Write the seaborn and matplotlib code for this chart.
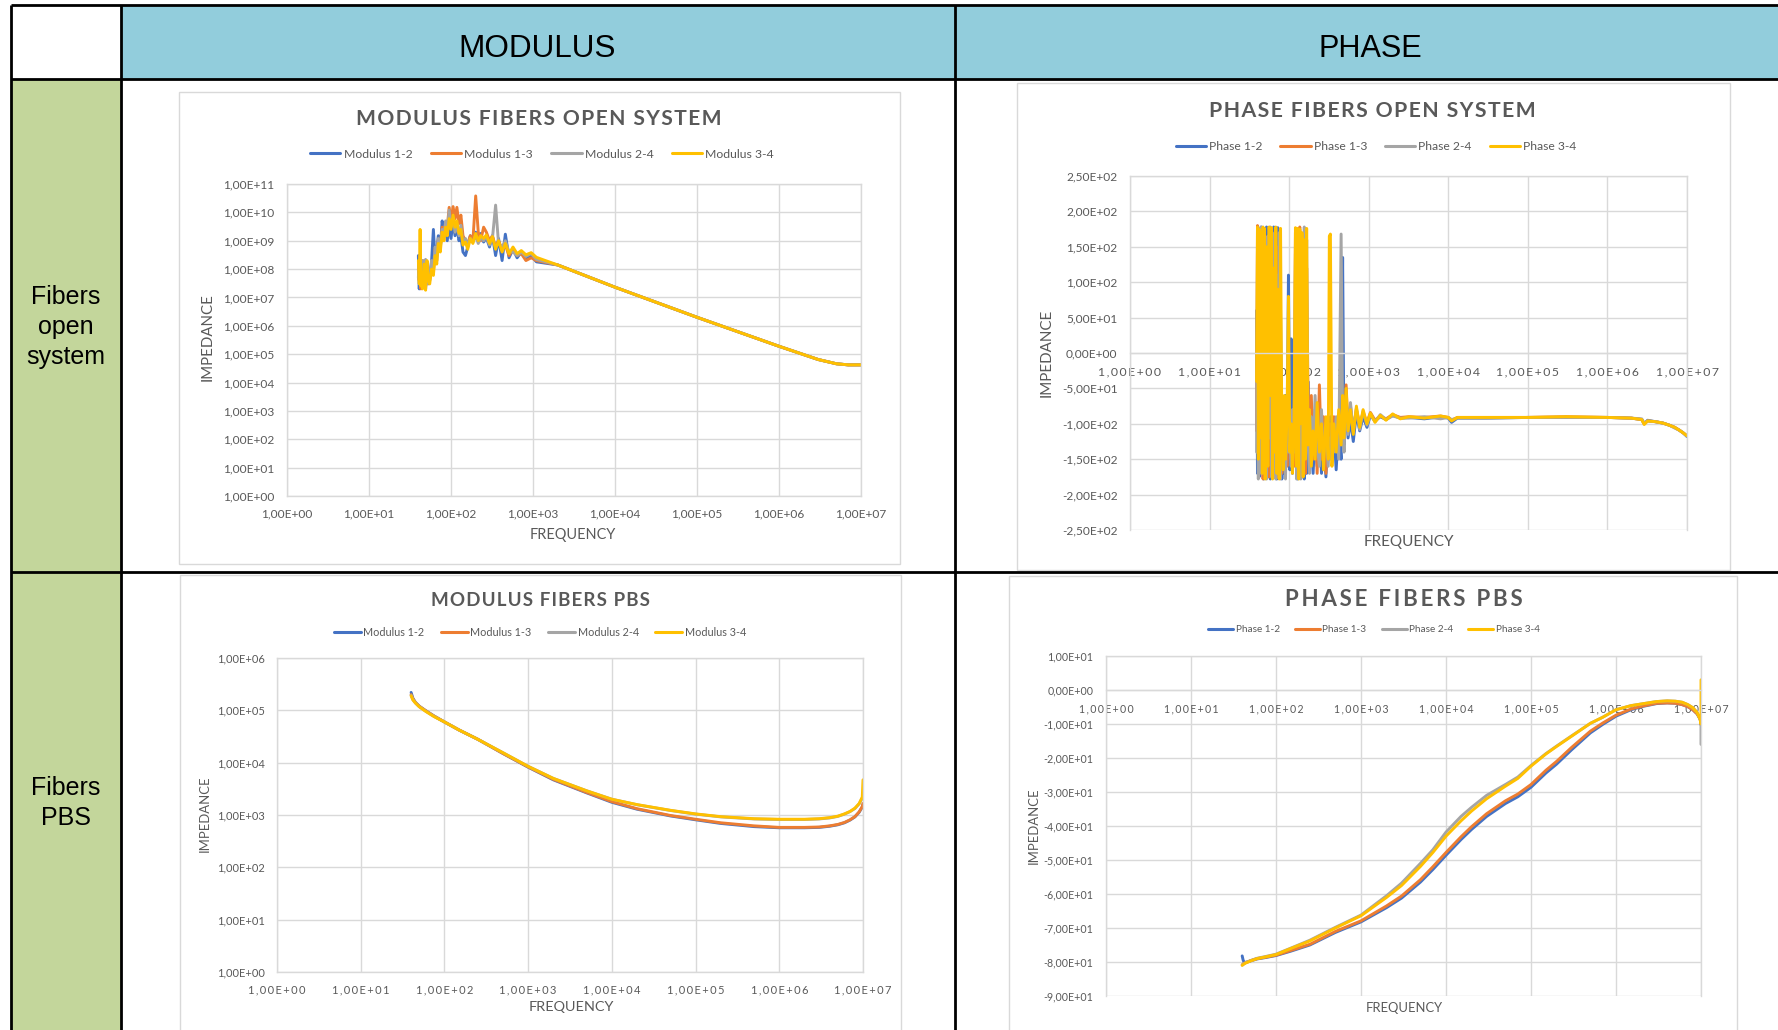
import matplotlib
matplotlib.use("Agg")
import matplotlib.pyplot as plt
from matplotlib.patches import Rectangle
from matplotlib.lines import Line2D
from matplotlib.ticker import FuncFormatter, FixedLocator, NullLocator
import pandas as pd
import seaborn as sns

# ------------------------------------------------------------------ data
series_colors = {"1-2": "#4472C4", "1-3": "#ED7D31", "2-4": "#A5A5A5", "3-4": "#FFC000"}
series_keys = ["1-2", "1-3", "2-4", "3-4"]

freq_ticks = [1e0, 1e1, 1e2, 1e3, 1e4, 1e5, 1e6, 1e7]

# Modulus, fibers open system
mod_open_freq_low = [40, 41, 42, 43, 44, 45, 47, 49, 51, 53, 55, 58, 61, 64, 67, 70, 74, 78, 82, 86,
                     90, 95, 100, 106, 112, 118, 125, 132, 140, 150, 160, 172, 185, 200, 215, 230,
                     250, 270, 295, 320, 350, 380, 420, 460, 510, 570, 640, 720, 820, 950, 1100]
mod_open_freq_high = [2000, 10000, 100000, 1000000, 3000000, 5000000, 7000000, 10000000]
mod_open_tail = [1.4e8, 2.3e7, 2.0e6, 1.9e5, 6.5e4, 4.6e4, 4.2e4, 4.2e4]
mod_open_12 = [3.0e8, 2.0e7, 1.5e8, 3.0e7, 2.0e8, 2.5e7,
               1.0e8, 2.0e7, 1.5e8, 5.0e7, 4.0e7,
               2.0e8, 2.5e9, 2.0e8, 4.0e8, 1.5e9,
               5.0e8, 5.0e9, 1.5e9, 3.0e9, 1.0e9,
               4.0e9, 1.2e9, 5.0e9, 1.5e9, 3.0e9,
               1.0e9, 1.5e9, 4.0e8, 3.0e8, 6.0e8,
               1.5e9, 1.0e9, 2.0e9, 1.2e9, 1.8e9,
               9.0e8, 1.3e9, 6.0e8, 1.5e9, 3.0e8,
               1.2e9, 2.0e8, 1.7e9, 2.5e8, 5.0e8,
               2.5e8, 4.0e8, 2.2e8, 3.0e8, 1.8e8]
mod_open_13 = [1.0e8, 4.0e7, 3.0e8, 2.0e7, 1.0e8, 3.0e7,
               2.0e8, 2.5e7, 1.0e8, 3.0e7, 6.0e7,
               1.5e8, 8.0e7, 5.0e8, 2.0e8, 1.0e9,
               6.0e8, 3.0e9, 2.0e9, 4.0e9, 3.0e9,
               1.5e10, 5.0e9, 1.6e10, 6.0e9, 1.5e10,
               4.0e9, 8.0e9, 1.5e9, 1.0e9, 8.0e8,
               1.5e9, 1.0e9, 3.8e10, 2.0e9, 1.0e9,
               3.0e9, 2.0e9, 1.0e9, 1.5e9, 6.0e8,
               1.0e9, 5.0e8, 7.0e8, 3.0e8, 5.0e8,
               3.0e8, 3.5e8, 2.0e8, 2.5e8, 2.0e8]
mod_open_24 = [5.0e7, 2.0e8, 3.0e7, 1.5e8, 2.5e7, 2.0e8,
               3.0e7, 2.2e8, 3.0e7, 1.0e8, 5.0e7,
               2.0e8, 1.0e8, 6.0e8, 3.0e8, 1.2e9,
               7.0e8, 2.5e9, 1.5e9, 5.0e9, 2.0e9,
               1.2e10, 3.0e9, 6.0e9, 2.0e9, 4.0e9,
               1.5e9, 3.5e9, 8.0e8, 1.2e9, 7.0e8,
               1.2e9, 9.0e8, 1.5e9, 8.0e8, 1.3e9,
               1.0e9, 1.4e9, 7.0e8, 1.2e9, 1.8e10,
               8.0e8, 6.0e8, 1.0e9, 4.0e8, 4.0e8,
               3.0e8, 4.0e8, 2.8e8, 3.5e8, 2.2e8]
mod_open_34 = [2.0e8, 3.0e7, 2.5e9, 2.5e7, 6.0e7, 2.0e7,
               1.5e8, 1.8e7, 2.0e8, 4.0e7, 3.0e7,
               1.0e8, 6.0e7, 3.0e8, 1.5e8, 8.0e8,
               4.0e8, 2.0e9, 1.0e9, 3.0e9, 1.5e9,
               6.0e9, 2.5e9, 8.0e9, 3.0e9, 5.0e9,
               1.8e9, 2.5e9, 7.0e8, 9.0e8, 5.0e8,
               1.2e9, 8.0e8, 1.8e9, 1.0e9, 1.5e9,
               1.2e9, 1.6e9, 8.0e8, 1.4e9, 5.0e8,
               1.0e9, 4.0e8, 8.0e8, 3.5e8, 6.0e8,
               3.5e8, 4.5e8, 3.2e8, 3.8e8, 2.6e8]
mod_open_ticks = [1e0, 1e1, 1e2, 1e3, 1e4, 1e5, 1e6, 1e7, 1e8, 1e9, 1e10, 1e11]

# Phase, fibers open system
ph_open_freq_low = [39, 40, 41, 42, 43, 44, 45, 46, 47, 48,
                    49, 50, 52, 54, 56, 58, 60, 62, 64, 66,
                    68, 70, 72, 75, 78, 81, 84, 87, 90, 94,
                    98, 102, 106, 110, 115, 120, 124, 128, 132, 136,
                    140, 145, 150, 155, 160, 166, 172, 180, 190, 200,
                    212, 225, 240, 255, 270, 290, 310, 320, 330, 345,
                    365, 390, 420, 450, 470, 490, 520, 550, 590, 640,
                    700, 770, 850, 950, 1050, 1200, 1400, 1650, 2000, 2500]
ph_open_freq_high = [3200, 5000, 8000, 10000, 11000, 13000, 30000, 100000, 300000, 1000000,
                     2000000, 2700000, 2900000, 3200000, 4000000, 5000000, 6000000, 7000000,
                     8000000, 9000000, 10000000]
ph_open_12 = [60, -170, 170, -175, 150, -100, 178, -165, 120, -178,
              160, -120, 178, -170, 100, -178, 175, -150, 178, -175,
              140, -178, 177, -140, 60, -178, -100, -170, -60, -150,
              110, -165, 20, -170, -40, -150, 170, -178, 160, -170,
              170, -160, 120, -178, 130, -170, -40, -150, -120, -170,
              -110, -160, -100, -170, -120, -175, -100, -130, -90, -150,
              -110, -165, -100, -150, 135, -130, -70, -120, -95, -125,
              -85, -110, -90, -105, -88, -96, -90, -94, -88, -92,
              -91, -93, -90, -92, -98, -92, -92, -91, -91, -91,
              -92, -94, -100, -95, -97, -99, -102, -105, -109, -113, -118]
ph_open_13 = [-110, 180, -130, 168, -170, 150, -90, 168, -178, 130,
              -160, 165, -140, 140, -175, 170, -130, 160, -170, 120,
              -160, 150, -175, 100, -150, -170, -90, -140, -100, -160,
              -80, -130, -150, -90, -160, 170, -170, 150, -160, 178,
              -150, 160, -140, 140, -170, 120, -40, -140, -60, -150,
              -80, -170, -45, -150, -90, -170, -110, -140, -100, -145,
              -90, -130, -100, -120, -80, -110, -45, -105, -75, -110,
              -80, -100, -85, -98, -84, -95, -89, -93, -87, -91,
              -90, -91, -89, -91, -95, -91, -91, -91, -90, -91,
              -92, -94, -100, -96, -97, -99, -102, -105, -109, -113, -117]
ph_open_24 = [-140, 150, -178, 160, -100, 178, -170, 140, -150, 175,
              -130, 155, -178, 165, -120, 178, -175, 130, -160, 170,
              -178, 110, -150, 170, -178, -90, -150, -110, -178, -70,
              -140, -110, -160, -80, -140, 140, -178, 165, -150, 160,
              -178, 150, -160, 178, -140, 160, -120, -170, -90, -140,
              -60, -130, -160, -80, -150, -110, -160, -120, -150, -100,
              -140, -90, -150, 168, -100, -140, -60, -115, -70, -112,
              -78, -108, -82, -102, -86, -97, -87, -94, -89, -92,
              -92, -90, -93, -91, -94, -92, -92, -91, -91, -91,
              -92, -93, -99, -96, -97, -99, -102, -106, -109, -113, -117]
ph_open_34 = [-40, 178, -150, 175, -120, 170, 60, -170, 178, -100,
              176, -178, 150, -160, 178, -60, 177, -178, 120, -140,
              178, -170, 90, -178, 176, -120, -165, -60, -150, -90,
              80, -140, -100, -170, -120, 177, -160, 176, -178, 175,
              -100, 170, -175, 160, -150, 176, -130, -80, -160, -110,
              -150, -70, -140, -100, -165, -90, -150, 165, 168, -160,
              -100, -140, -80, -130, -60, -120, -50, -110, -80, -115,
              -75, -105, -80, -100, -85, -98, -88, -95, -86, -93,
              -90, -92, -89, -91, -96, -91, -91, -91, -90, -91,
              -92, -94, -101, -96, -97, -99, -102, -105, -109, -113, -117]
ph_open_ticks = [-250, -200, -150, -100, -50, 0, 50, 100, 150, 200, 250]

# Modulus, fibers PBS
mod_pbs_freq = [40, 42, 45, 50, 60, 75, 100, 150, 250, 500, 1000, 2000, 5000, 10000, 20000,
                50000, 100000, 200000, 500000, 1000000, 2000000, 3000000, 4000000, 5000000,
                6000000, 7000000, 8000000, 9000000, 9800000, 10000000]
mod_pbs_12 = [2.2e5, 1.7e5, 1.42e5, 1.20e5, 9.8e4, 7.8e4, 6.0e4, 4.2e4, 2.8e4, 1.5e4,
              8.2e3, 4.7e3, 2.65e3, 1.75e3, 1.29e3, 9.6e2, 8.1e2, 6.9e2, 6.0e2, 5.7e2,
              5.7e2, 5.8e2, 6.1e2, 6.5e2, 7.1e2, 8.0e2, 9.2e2, 1.13e3, 1.42e3, 1.62e3]
mod_pbs_13 = [2.0e5, 1.66e5, 1.41e5, 1.20e5, 9.8e4, 7.8e4, 6.0e4, 4.2e4, 2.8e4, 1.5e4,
              8.3e3, 4.8e3, 2.7e3, 1.8e3, 1.32e3, 9.8e2, 8.3e2, 7.1e2, 6.2e2, 5.8e2,
              5.8e2, 5.9e2, 6.2e2, 6.6e2, 7.2e2, 8.1e2, 9.3e2, 1.15e3, 1.45e3, 1.66e3]
mod_pbs_24 = [1.95e5, 1.6e5, 1.39e5, 1.18e5, 9.6e4, 7.7e4, 6.0e4, 4.2e4, 2.8e4, 1.55e4,
              8.5e3, 5.0e3, 2.9e3, 2.0e3, 1.57e3, 1.22e3, 1.04e3, 9.2e2, 8.4e2, 8.2e2,
              8.2e2, 8.4e2, 8.8e2, 9.4e2, 1.04e3, 1.16e3, 1.33e3, 1.63e3, 2.1e3, 2.3e3]
mod_pbs_34 = [1.9e5, 1.58e5, 1.38e5, 1.17e5, 9.5e4, 7.6e4, 6.0e4, 4.2e4, 2.8e4, 1.55e4,
              8.5e3, 5.0e3, 2.9e3, 2.0e3, 1.58e3, 1.23e3, 1.05e3, 9.3e2, 8.5e2, 8.3e2,
              8.3e2, 8.5e2, 8.9e2, 9.5e2, 1.05e3, 1.17e3, 1.35e3, 1.66e3, 2.2e3, 4.7e3]
mod_pbs_ticks = [1e0, 1e1, 1e2, 1e3, 1e4, 1e5, 1e6]

# Phase, fibers PBS
ph_pbs_freq = [40, 41, 42, 44, 47, 50,
               60, 75, 100, 150, 250,
               500, 1000, 2000, 3000, 5000,
               7000, 10000, 15000, 20000, 30000,
               50000, 70000, 100000, 150000, 200000,
               300000, 500000, 700000, 1000000, 1500000,
               2000000, 3000000, 4000000, 5000000, 6000000,
               7000000, 8000000, 9000000, 9800000, 10000000, 10000000]
ph_pbs_12 = [-78.2, -79.4, -80.0, -80.1, -79.9, -79.7,
             -79.1, -78.7, -78.1, -76.8, -75.0,
             -71.3, -68.2, -64.0, -61.2, -56.5,
             -52.8, -48.6, -44.0, -41.0, -37.2,
             -33.4, -31.4, -28.6, -24.4, -21.8,
             -17.6, -12.6, -10.1, -7.7, -5.8,
             -4.9, -4.0, -3.8, -3.9, -4.3,
             -4.9, -5.8, -7.0, -8.6, -10.2, -10.2]
ph_pbs_13 = [-80.8, -80.6, -80.4, -80.2, -79.9, -79.6,
             -79.0, -78.6, -78.0, -76.6, -74.8,
             -71.0, -67.9, -63.5, -60.6, -55.8,
             -52.0, -47.8, -43.2, -40.2, -36.4,
             -32.6, -30.6, -27.8, -23.6, -21.0,
             -16.9, -12.1, -9.7, -7.4, -5.6,
             -4.8, -3.9, -3.8, -3.9, -4.3,
             -4.9, -5.8, -7.0, -8.6, -10.2, -10.2]
ph_pbs_24 = [-80.9, -80.7, -80.5, -80.2, -79.9, -79.6,
             -78.9, -78.4, -77.7, -75.9, -73.6,
             -69.8, -66.2, -60.5, -56.8, -51.0,
             -47.0, -41.8, -37.2, -34.5, -31.0,
             -27.8, -25.6, -22.2, -18.7, -16.5,
             -13.5, -9.8, -8.0, -5.8, -4.6,
             -4.1, -3.4, -3.2, -3.3, -3.6,
             -4.3, -5.2, -6.6, -8.8, -10.0, -16.0]
ph_pbs_34 = [-81.0, -80.8, -80.6, -80.3, -80.0, -79.7,
             -79.0, -78.5, -77.8, -76.0, -73.8,
             -70.0, -66.4, -61.0, -57.5, -51.9,
             -47.8, -43.0, -38.5, -35.6, -32.0,
             -28.3, -26.0, -22.4, -18.8, -16.6,
             -13.6, -9.8, -8.0, -5.8, -4.6,
             -4.1, -3.4, -3.2, -3.3, -3.6,
             -4.3, -5.2, -6.6, -8.8, -10.0, 3.0]
ph_pbs_ticks = [-90, -80, -70, -60, -50, -40, -30, -20, -10, 0, 10]

column_headers = ["MODULUS", "PHASE"]
row_headers = ["Fibers\nopen\nsystem", "Fibers\nPBS"]

# ------------------------------------------------------------------ style
W, H = 1778, 1030
TXT = "#595959"
GRID = "#D9D9D9"
BASE_FONT = ["Lato", "DejaVu Sans"]
NARROW_FONT = ["Liberation Sans Narrow", "Liberation Sans", "DejaVu Sans"]

sns.set_style("white")
plt.rcParams["font.family"] = BASE_FONT

fig = plt.figure(figsize=(W / 100, H / 100), dpi=100)
renderer = fig.canvas.get_renderer()

bg = fig.add_axes([0, 0, 1, 1])
bg.set_xlim(0, W)
bg.set_ylim(H, 0)
bg.axis("off")


def fig_rect(x0, y0, x1, y1):
    return [x0 / W, 1 - y1 / H, (x1 - x0) / W, (y1 - y0) / H]


def fit(text, target, vertical=False):
    bb = text.get_window_extent(renderer)
    size = bb.height if vertical else bb.width
    text.set_fontsize(text.get_fontsize() * target / size)


def tracked(s, gap):
    # loose letter spacing, as used by the chart titles
    return gap.join(s)


def sci_comma(v, pos=None):
    return f"{v:.2E}".replace(".", ",")


def sci_comma_spaced(v, pos=None):
    return "\u2009".join(sci_comma(v))


def long_frame(freq, columns):
    parts = [pd.DataFrame({"Frequency": freq, "Value": vals, "Series": key})
             for key, vals in zip(series_keys, columns)]
    return pd.concat(parts, ignore_index=True)


# ------------------------------------------------------------------ table
bg.add_patch(Rectangle((121, 5), W - 121, 74, fc="#92CDDC", ec="none", zorder=0))
bg.add_patch(Rectangle((11, 79), 110, H - 79, fc="#C3D69B", ec="none", zorder=0))

for y in (5, 79, 572):
    bg.plot([11, W], [y, y], color="black", lw=2.0, solid_capstyle="butt", zorder=3)
for x in (11, 121, 955):
    bg.plot([x, x], [5, H], color="black", lw=2.0, solid_capstyle="butt", zorder=3)

for label, cx, w in zip(column_headers, (537, 1370), (158, 104)):
    t = bg.text(cx, 57, label, ha="center", va="baseline", family=NARROW_FONT,
                fontsize=25, color="black", zorder=4)
    fit(t, w)

for label, cy in zip(row_headers, (327, 803)):
    bg.text(66, cy, label, ha="center", va="center", family=NARROW_FONT,
            fontsize=18, color="black", linespacing=1.3,
            multialignment="center", zorder=4)

# ------------------------------------------------------------------ charts
panels = [
    dict(box=(179, 92, 900, 564), plot=(287, 184, 861, 496),
         title="MODULUS FIBERS OPEN SYSTEM", title_xy=(539, 125), title_w=366, gap="\u200a",
         legend_xy=(542, 154), legend_fs=8.8, legend_name="Modulus",
         data=long_frame(mod_open_freq_low + mod_open_freq_high,
                         [mod_open_12 + mod_open_tail, mod_open_13 + mod_open_tail,
                          mod_open_24 + mod_open_tail, mod_open_34 + mod_open_tail]),
         ylog=True, yticks=mod_open_ticks, zero_axis=False, spaced=False,
         ytick_fs=8.6, xtick_fs=8.6, xpad=9,
         xlabel_xy=(573, 535), xlabel_w=86, ylabel_xy=(208, 337), ylabel_w=87),
    dict(box=(1017, 83, 1730, 570), plot=(1130, 176, 1687, 530),
         title="PHASE FIBERS OPEN SYSTEM", title_xy=(1372, 117), title_w=328, gap="\u200a",
         legend_xy=(1376, 147), legend_fs=8.7, legend_name="Phase",
         data=long_frame(ph_open_freq_low + ph_open_freq_high,
                         [ph_open_12, ph_open_13, ph_open_24, ph_open_34]),
         ylog=False, yticks=ph_open_ticks, zero_axis=True, spaced=True,
         ytick_fs=8.6, xtick_fs=8.8, xpad=10,
         xlabel_xy=(1409, 542), xlabel_w=90, ylabel_xy=(1047, 353), ylabel_w=88),
    dict(box=(180, 575, 901, 1045), plot=(277, 658, 863, 972),
         title="MODULUS FIBERS PBS", title_xy=(540, 606), title_w=222, gap="\u200a",
         legend_xy=(540, 632), legend_fs=7.8, legend_name="Modulus",
         data=long_frame(mod_pbs_freq, [mod_pbs_12, mod_pbs_13, mod_pbs_24, mod_pbs_34]),
         ylog=True, yticks=mod_pbs_ticks, zero_axis=False, spaced=True,
         ytick_fs=8.0, xtick_fs=8.0, xpad=9,
         xlabel_xy=(571, 1007), xlabel_w=85, ylabel_xy=(205, 814), ylabel_w=76),
    dict(box=(1009, 576, 1737, 1045), plot=(1106, 656, 1701, 996),
         title="PHASE FIBERS PBS", title_xy=(1404, 606), title_w=242, gap="\u2009",
         legend_xy=(1374, 630), legend_fs=7.2, legend_name="Phase",
         data=long_frame(ph_pbs_freq, [ph_pbs_12, ph_pbs_13, ph_pbs_24, ph_pbs_34]),
         ylog=False, yticks=ph_pbs_ticks, zero_axis=True, spaced=True,
         ytick_fs=7.7, xtick_fs=7.6, xpad=10,
         xlabel_xy=(1404, 1008), xlabel_w=77, ylabel_xy=(1034, 826), ylabel_w=76),
]

for p in panels:
    x0, y0, x1, y1 = p["box"]
    bg.add_patch(Rectangle((x0, y0), x1 - x0, y1 - y0, fc="white", ec=GRID, lw=1.0, zorder=1))

    px0, py0, px1, py1 = p["plot"]
    ax = fig.add_axes(fig_rect(px0, py0, px1, py1))
    ax.set_facecolor("white")

    sns.lineplot(data=p["data"], x="Frequency", y="Value", hue="Series",
                 hue_order=series_keys, palette=series_colors, estimator=None,
                 errorbar=None, sort=False, linewidth=2.1, legend=False, ax=ax)

    ax.set_xscale("log")
    ax.set_xlim(freq_ticks[0], freq_ticks[-1])
    ax.xaxis.set_major_locator(FixedLocator(freq_ticks))
    ax.xaxis.set_minor_locator(NullLocator())
    ax.xaxis.set_major_formatter(FuncFormatter(sci_comma_spaced if p["spaced"] else sci_comma))

    if p["ylog"]:
        ax.set_yscale("log")
    ax.set_ylim(p["yticks"][0], p["yticks"][-1])
    ax.yaxis.set_major_locator(FixedLocator(p["yticks"]))
    ax.yaxis.set_minor_locator(NullLocator())
    ax.yaxis.set_major_formatter(FuncFormatter(sci_comma))

    ax.grid(True, which="major", color=GRID, lw=1.0)
    for s in ax.spines.values():
        s.set_color(GRID)
        s.set_linewidth(1.0)
    if p["zero_axis"]:
        ax.spines["bottom"].set_position(("data", 0))

    ax.tick_params(axis="both", length=0, labelcolor=TXT)
    ax.tick_params(axis="y", labelsize=p["ytick_fs"], pad=9)
    ax.tick_params(axis="x", labelsize=p["xtick_fs"], pad=p["xpad"])

    # axis titles
    ax.set_xlabel("FREQUENCY", color=TXT, fontsize=11, va="center")
    ax.set_ylabel("IMPEDANCE", color=TXT, fontsize=11, va="center")
    w_ax, h_ax = px1 - px0, py1 - py0
    lx, ly = p["xlabel_xy"]
    ax.xaxis.set_label_coords((lx - px0) / w_ax, (py1 - ly) / h_ax)
    lx, ly = p["ylabel_xy"]
    ax.yaxis.set_label_coords((lx - px0) / w_ax, (py1 - ly) / h_ax)
    fit(ax.xaxis.label, p["xlabel_w"])
    fit(ax.yaxis.label, p["ylabel_w"], vertical=True)

    # chart title
    tx, ty = p["title_xy"]
    t = bg.text(tx, ty, tracked(p["title"], p["gap"]), ha="center", va="baseline",
                fontweight="bold", color=TXT, fontsize=14, zorder=4)
    fit(t, p["title_w"])

    # legend across the top
    handles = [Line2D([], [], color=series_colors[k], lw=2.2) for k in series_keys]
    labels = [f"{p['legend_name']} {k}" for k in series_keys]
    lx, ly = p["legend_xy"]
    fig.legend(handles, labels, loc="center", bbox_to_anchor=(lx / W, 1 - ly / H),
               ncol=4, frameon=False, fontsize=p["legend_fs"], labelcolor=TXT,
               handlelength=2.5, handletextpad=0.25, columnspacing=1.5,
               borderpad=0, borderaxespad=0)

fig.savefig("out.png", dpi=100)
